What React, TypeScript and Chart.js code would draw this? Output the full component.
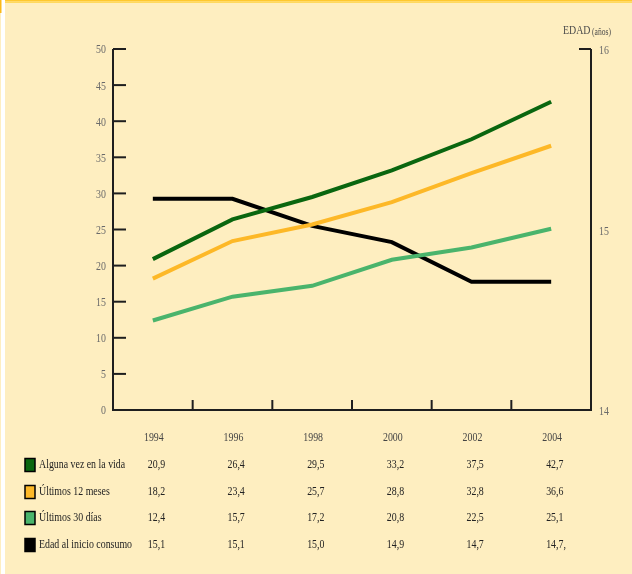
import React, { useEffect, useRef } from "react";
import { Chart, registerables } from "chart.js";

Chart.register(...registerables);

const years = ["1994", "1996", "1998", "2000", "2002", "2004"];
const alguna = [20.9, 26.4, 29.5, 33.2, 37.5, 42.7];
const ultimos12 = [18.2, 23.4, 25.7, 28.8, 32.8, 36.6];
const ultimos30 = [12.4, 15.7, 17.2, 20.8, 22.5, 25.1];
const edadInicio = [15.17, 15.17, 15.02, 14.93, 14.71, 14.71];

const seriesNames = ["Alguna vez en la vida", "Últimos 12 meses", "Últimos 30 días", "Edad al inicio consumo"];
const tableAlguna = ["20,9", "26,4", "29,5", "33,2", "37,5", "42,7"];
const table12 = ["18,2", "23,4", "25,7", "28,8", "32,8", "36,6"];
const table30 = ["12,4", "15,7", "17,2", "20,8", "22,5", "25,1"];
const tableEdad = ["15,1", "15,1", "15,0", "14,9", "14,7", "14,7,"];
const leftTicks = [0, 5, 10, 15, 20, 25, 30, 35, 40, 45, 50];
const rightTicks = [14, 15, 16];

const colors = ["#0A660F", "#FDB827", "#4AB46C", "#000000"];
const BG = "#FEEEC0";
const FONT = "13px 'Liberation Serif', serif";
const SX = 0.76;

function drawText(ctx: CanvasRenderingContext2D, text: string, x: number, y: number, align: string, font: string, color: string, sx = SX) {
  ctx.save();
  ctx.font = font;
  ctx.fillStyle = color;
  ctx.textBaseline = "middle";
  ctx.textAlign = "left";
  const w = ctx.measureText(text).width * sx;
  const x0 = align === "left" ? x : align === "right" ? x - w : x - w / 2;
  ctx.translate(x0, y);
  ctx.scale(sx, 1);
  ctx.fillText(text, 0, 0);
  ctx.restore();
}

const framePlugin = {
  id: "frame",
  beforeDraw(chart: any) {
    const ctx = chart.ctx as CanvasRenderingContext2D;
    const W = chart.width, H = chart.height;
    ctx.save();
    ctx.fillStyle = BG;
    ctx.fillRect(0, 0, W, H);
    ctx.fillStyle = "#FFFFFF";
    ctx.fillRect(1, 0, 4, H);
    ctx.fillStyle = "#FBB917";
    ctx.fillRect(0, 0, 1.5, 13);
    ctx.fillStyle = "#FFC82E";
    ctx.fillRect(5, 0, W - 5, 1.5);
    ctx.fillStyle = "#FFD95E";
    ctx.fillRect(5, 1.5, W - 5, 1.5);
    ctx.restore();
  },
  afterDraw(chart: any) {
    const ctx = chart.ctx as CanvasRenderingContext2D;
    const ca = chart.chartArea;
    const x = chart.scales.x, y = chart.scales.y, y2 = chart.scales.y2;
    ctx.save();
    ctx.strokeStyle = "#1E1E1E";
    ctx.lineWidth = 2;
    ctx.lineCap = "butt";
    ctx.beginPath();
    ctx.moveTo(ca.left, ca.top);
    ctx.lineTo(ca.left, ca.bottom);
    ctx.lineTo(ca.right, ca.bottom);
    ctx.lineTo(ca.right, ca.top);
    ctx.stroke();
    leftTicks.forEach((v) => {
      const py = y.getPixelForValue(v);
      if (v !== 0) {
        ctx.beginPath();
        ctx.moveTo(ca.left, py);
        ctx.lineTo(ca.left + 13, py);
        ctx.stroke();
      }
      drawText(ctx, String(v), ca.left - 7, py + 1, "right", FONT, "#6A6A6A");
    });
    rightTicks.forEach((v) => {
      const py = y2.getPixelForValue(v);
      if (v === 16) {
        ctx.beginPath();
        ctx.moveTo(ca.right, py);
        ctx.lineTo(ca.right - 12, py);
        ctx.stroke();
      }
      drawText(ctx, String(v), ca.right + 8, py + 2, "left", FONT, "#6A6A6A");
    });
    for (let i = 0; i < years.length - 1; i++) {
      const px = (x.getPixelForValue(i) + x.getPixelForValue(i + 1)) / 2;
      ctx.beginPath();
      ctx.moveTo(px, ca.bottom);
      ctx.lineTo(px, ca.bottom - 10);
      ctx.stroke();
    }
    drawText(ctx, "EDAD", 563, 31, "left", FONT, "#4A4A4A");
    drawText(ctx, "(años)", 592, 32, "left", "10px 'Liberation Serif', serif", "#4A4A4A");
    years.forEach((yr, i) => {
      drawText(ctx, yr, x.getPixelForValue(i) + 1, 438, "center", FONT, "#444444");
    });
    const rows = [tableAlguna, table12, table30, tableEdad];
    const rowY = [465, 492, 518, 545];
    rows.forEach((row, r) => {
      const ry = rowY[r];
      ctx.fillStyle = colors[r];
      ctx.fillRect(25, ry - 6.5, 10, 13);
      ctx.strokeStyle = "#000";
      ctx.lineWidth = 1.5;
      ctx.strokeRect(25, ry - 6.5, 10, 13);
      drawText(ctx, seriesNames[r], 39, ry, "left", FONT, "#222222");
      row.forEach((t, i) => {
        drawText(ctx, t, x.getPixelForValue(i) - 5, ry, "left", FONT, "#222222");
      });
    });
    ctx.restore();
  },
};

export default function App() {
  const ref = useRef<HTMLCanvasElement | null>(null);
  useEffect(() => {
    document.body.style.margin = "0";
    if (!ref.current) return;
    const chart = new Chart(ref.current, {
      type: "line",
      data: {
        labels: years,
        datasets: [
          { label: seriesNames[0], data: alguna, borderColor: colors[0], yAxisID: "y" },
          { label: seriesNames[1], data: ultimos12, borderColor: colors[1], yAxisID: "y" },
          { label: seriesNames[2], data: ultimos30, borderColor: colors[2], yAxisID: "y" },
          { label: seriesNames[3], data: edadInicio, borderColor: colors[3], yAxisID: "y2" },
        ].map((d) => ({ ...d, borderWidth: 4, pointRadius: 0, tension: 0, fill: false })),
      },
      options: {
        responsive: false,
        animation: false,
        devicePixelRatio: 1,
        layout: { padding: { top: 49, left: 0, right: 0, bottom: 0 } },
        plugins: { legend: { display: false }, tooltip: { enabled: false } },
        scales: {
          x: {
            type: "category",
            offset: true,
            grid: { display: false },
            border: { display: false },
            ticks: { display: false },
            afterFit: (s: any) => { s.height = 164; },
          },
          y: {
            position: "left",
            min: 0,
            max: 50,
            grid: { display: false },
            border: { display: false },
            ticks: { display: false, stepSize: 5 },
            afterFit: (s: any) => { s.width = 113; },
          },
          y2: {
            position: "right",
            min: 14,
            max: 16,
            grid: { display: false },
            border: { display: false },
            ticks: { display: false, stepSize: 1 },
            afterFit: (s: any) => { s.width = 41; },
          },
        },
      } as any,
      plugins: [framePlugin],
    });
    return () => chart.destroy();
  }, []);
  return (
    <div style={{ position: "fixed", left: 0, top: 0, width: 632, height: 574, background: BG }}>
      <canvas ref={ref} width={632} height={574} style={{ display: "block", width: 632, height: 574 }} />
    </div>
  );
}
